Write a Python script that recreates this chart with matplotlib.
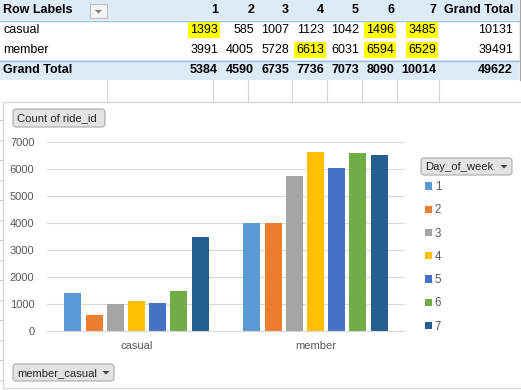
import numpy as np
import matplotlib

matplotlib.use("Agg")
import matplotlib.pyplot as plt
from matplotlib.patches import Rectangle, FancyBboxPatch, Polygon

plt.rcParams["font.family"] = ["Liberation Sans", "DejaVu Sans"]

GROUPS = ["casual", "member"]
DAYS = ["1", "2", "3", "4", "5", "6", "7"]
CASUAL = [1393, 585, 1007, 1123, 1042, 1496, 3485]
MEMBER = [3991, 4005, 5728, 6613, 6031, 6594, 6529]
COLOURS = ["#5B9BD5", "#ED7D31", "#A5A5A5", "#FFC000", "#4472C4", "#70AD47", "#255E91"]
HIGHLIGHTS = [("casual", "1"), ("casual", "6"), ("casual", "7"),
              ("member", "4"), ("member", "6"), ("member", "7")]

W, H = 521, 390
AXIS_GREY = "#595959"


def button(ax, x, y, w, h, label, arrow=True):
    ax.add_patch(FancyBboxPatch((x, y), w, h, boxstyle="round,pad=0,rounding_size=3",
                                fc="#E3E3E3", ec="#A9A9A9", lw=0.8))
    ax.text(x + 4, y + h / 2 + 0.5, label, fontsize=8.1, color="#262626", va="center", ha="left")
    if arrow:
        cx, cy = x + w - 8, y + h / 2
        ax.add_patch(Polygon([(cx - 3.5, cy - 1.5), (cx + 3.5, cy - 1.5), (cx, cy + 2)],
                             closed=True, fc="#404040", ec="none"))


fig = plt.figure(figsize=(W / 100, H / 100), dpi=100)

# pixel-space overlay for the pivot table and chart decorations
ov = fig.add_axes([0, 0, 1, 1], zorder=0)
ov.set_xlim(0, W)
ov.set_ylim(H, 0)
ov.axis("off")

# --- pivot table ---
col_right = [218, 254, 289, 324, 359, 394, 436]
total_right = 513
row_y = [10, 30, 50, 70]

ov.add_patch(Rectangle((0, 0), 519, 20, fc="#DDEBF7", ec="none"))
ov.add_patch(Rectangle((0, 60), 519, 20, fc="#DDEBF7", ec="none"))
ov.plot([0, 519], [20.5, 20.5], color="#9BC2E6", lw=1)
ov.plot([0, 519], [60.5, 60.5], color="#9BC2E6", lw=1)
ov.plot([520, 520], [0, 80], color="#A6A6A6", lw=1)

for grid_x in [107, 213, 248, 292, 327, 362, 397, 439]:
    ov.plot([grid_x, grid_x], [80, 101], color="#D4D4D4", lw=0.8)

# highlighted cells
for group, day in HIGHLIGHTS:
    r = GROUPS.index(group) + 1
    c = DAYS.index(day)
    ov.add_patch(Rectangle((col_right[c] - 30, row_y[r] - 8), 32, 16, fc="#FFFF00", ec="none"))

ov.text(3, row_y[0], "Row Labels", fontsize=9, fontweight="bold", va="center")
ov.add_patch(Rectangle((90, 4), 17, 14, fc="#F4F4F4", ec="#BFBFBF", lw=0.8))
ov.add_patch(Polygon([(95, 10), (102, 10), (98.5, 13.5)], closed=True, fc="#7F7F7F", ec="none"))
for c, day in enumerate(DAYS):
    ov.text(col_right[c], row_y[0], day, fontsize=9, fontweight="bold", ha="right", va="center")
ov.text(total_right, row_y[0], "Grand Total", fontsize=9, fontweight="bold", ha="right", va="center")

for r, (group, vals) in enumerate(zip(GROUPS, [CASUAL, MEMBER]), start=1):
    ov.text(3, row_y[r], group, fontsize=9, va="center")
    for c, v in enumerate(vals):
        ov.text(col_right[c], row_y[r], str(v), fontsize=9, ha="right", va="center")
    ov.text(total_right, row_y[r], str(sum(vals)), fontsize=9, ha="right", va="center")

day_totals = [a + b for a, b in zip(CASUAL, MEMBER)]
ov.text(3, row_y[3], "Grand Total", fontsize=9, fontweight="bold", va="center")
for c, v in enumerate(day_totals):
    ov.text(col_right[c], row_y[3], str(v), fontsize=9, fontweight="bold", ha="right", va="center")
ov.text(total_right, row_y[3], str(sum(day_totals)), fontsize=9, fontweight="bold",
        ha="right", va="center")

# --- chart frame ---
ov.add_patch(Rectangle((3, 102), 530, 286, fc="white", ec="#D9D9D9", lw=1))
for ry in range(120, 390, 20):
    ov.plot([0, 3], [ry, ry], color="#D4D4D4", lw=0.8)

button(ov, 13, 109, 92, 18, "Count of ride_id", arrow=False)
button(ov, 421, 158, 91, 17, "Day_of_week")
button(ov, 13, 364, 101, 17, "member_casual")

# --- clustered column chart ---
ax = fig.add_axes([47 / W, 1 - 331 / H, 358 / W, 189 / H], zorder=1)
ax.patch.set_alpha(0)

x = np.arange(len(GROUPS))
step = 0.1184
width = 0.095
for i, day in enumerate(DAYS):
    ax.bar(x + (i - 3) * step, [CASUAL[i], MEMBER[i]], width, color=COLOURS[i], label=day, zorder=2)

ax.set_xlim(-0.5, 1.5)
ax.set_ylim(0, 7000)
ax.set_yticks(range(0, 7001, 1000))
ax.set_xticks(x)
ax.set_xticklabels(GROUPS)
ax.yaxis.grid(True, color="#D9D9D9", lw=0.8, zorder=0)
ax.set_axisbelow(True)
for side in ["top", "right", "left"]:
    ax.spines[side].set_visible(False)
ax.spines["bottom"].set_color("#D9D9D9")
ax.tick_params(axis="y", length=0, pad=9, labelsize=8, labelcolor=AXIS_GREY)
ax.tick_params(axis="x", length=0, pad=7, labelsize=8, labelcolor=AXIS_GREY)

ax.legend(loc="upper left", bbox_to_anchor=(425 / W, 1 - 181 / H),
          bbox_transform=fig.transFigure, frameon=False, fontsize=8.3,
          labelcolor=AXIS_GREY, handlelength=0.6, handleheight=0.6,
          handletextpad=0.25, labelspacing=0.98, borderpad=0, borderaxespad=0)

fig.savefig("out.png", dpi=100)
